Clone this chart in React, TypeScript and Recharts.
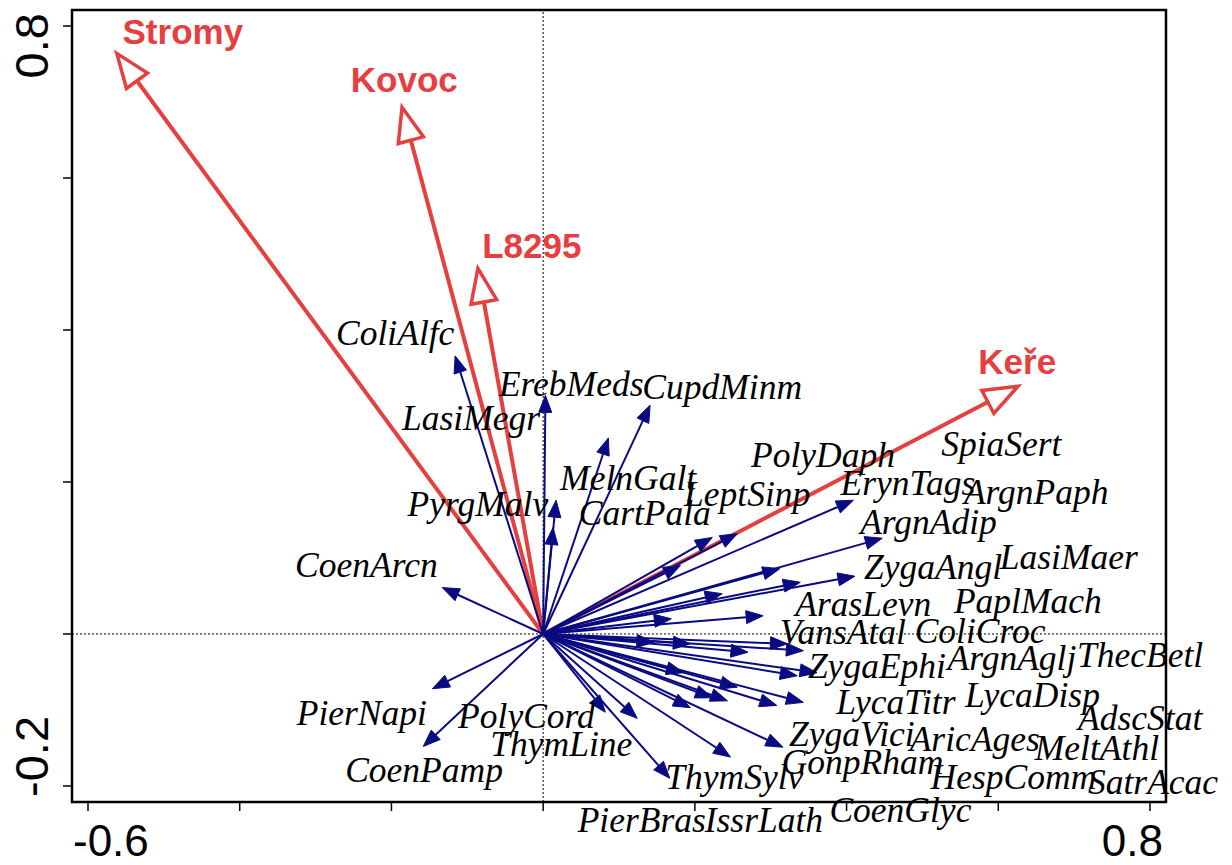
import React from "react";
import { ScatterChart, Scatter, XAxis, YAxis, ReferenceLine, ReferenceArea, ReferenceDot } from "recharts";

// environmental variables (red arrows)
const envNames = ["Stromy", "Kovoc", "L8295", "Keře"];
const envX = [-0.562, -0.186, -0.086, 0.626];
const envY = [0.764, 0.693, 0.481, 0.326];
const envLabelX = [-0.475, -0.183, -0.015, 0.625];
const envLabelY = [0.793, 0.730, 0.511, 0.359];

// species arrow tips
const arrowX = [
  -0.116, 0.003, 0.086, 0.141, 0.017, 0.013, -0.133, -0.146, -0.158, 0.223,
  0.256, 0.181, 0.409, 0.447, 0.312, 0.411, 0.339, 0.236, 0.169, 0.29,
  0.146, 0.194, 0.27, 0.322, 0.343, 0.361, 0.335, 0.185, 0.256, 0.223,
  0.243, 0.194, 0.308, 0.343, 0.082, 0.124, 0.316, 0.247, 0.167,
];
const arrowY = [
  0.366, 0.314, 0.258, 0.301, 0.176, 0.14, 0.061, -0.072, -0.148, 0.127,
  0.132, 0.09, 0.176, 0.126, 0.086, 0.076, 0.068, 0.053, 0.02, 0.024,
  -0.011, -0.013, -0.024, -0.013, -0.022, -0.051, -0.055, -0.051, -0.07, -0.084,
  -0.088, -0.097, -0.094, -0.09, -0.103, -0.111, -0.149, -0.162, -0.19,
];

// species labels
const speciesNames = [
  "ColiAlfc", "LasiMegr", "PyrgMalv", "CoenArcn", "PierNapi", "CoenPamp", "PolyCord", "ThymLine",
  "ErebMeds", "CupdMinm", "MelnGalt", "CartPala", "LeptSinp", "PolyDaph", "ErynTags", "SpiaSert",
  "ArgnPaph", "ArgnAdip", "ZygaAngl", "LasiMaer", "ArasLevn", "PaplMach", "VansAtal", "ColiCroc",
  "ZygaEphi", "ArgnAglj", "ThecBetl", "LycaTitr", "LycaDisp", "AdscStat", "ZygaVici", "AricAges",
  "MeltAthl", "GonpRham", "HespComm", "SatrAcac", "ThymSylv", "PierBras", "IssrLath", "CoenGlyc",
];
const labelX = [
  -0.195, -0.095, -0.086, -0.233, -0.239, -0.157, -0.022, 0.024,
  0.037, 0.236, 0.112, 0.134, 0.269, 0.369, 0.481, 0.604,
  0.65, 0.508, 0.514, 0.693, 0.422, 0.639, 0.395, 0.576,
  0.44, 0.618, 0.787, 0.465, 0.645, 0.787, 0.407, 0.569,
  0.73, 0.421, 0.62, 0.804, 0.252, 0.13, 0.291, 0.471,
];
const labelY = [
  0.395, 0.284, 0.17, 0.09, -0.104, -0.18, -0.109, -0.146,
  0.328, 0.325, 0.205, 0.159, 0.184, 0.235, 0.198, 0.249,
  0.186, 0.147, 0.088, 0.101, 0.039, 0.043, 0.002, 0.003,
  -0.043, -0.032, -0.028, -0.09, -0.081, -0.111, -0.132, -0.139,
  -0.151, -0.169, -0.189, -0.196, -0.189, -0.245, -0.245, -0.232,
];

const xTicks = [-0.6, -0.4, -0.2, 0, 0.2, 0.4, 0.6, 0.8];
const yTicks = [-0.2, 0, 0.2, 0.4, 0.6, 0.8];

const RED = "#e5403f";
const NAVY = "#0a0a82";
const SANS = "'Liberation Sans', Arial, sans-serif";
const SERIF = "'Liberation Serif', 'Times New Roman', serif";

const tips = arrowX.map((x, i) => ({ x, y: arrowY[i] }));

function head(x1: number, y1: number, x2: number, y2: number, len: number, hw: number) {
  const a = Math.atan2(y2 - y1, x2 - x1);
  const c = Math.cos(a);
  const s = Math.sin(a);
  const bx = x2 - len * c;
  const by = y2 - len * s;
  return {
    bx,
    by,
    pts: `${x2},${y2} ${bx - hw * s},${by + hw * c} ${bx + hw * s},${by - hw * c}`,
  };
}

const speciesArrow = (p: any) => {
  const h = head(p.x1, p.y1, p.x2, p.y2, 17, 6.5);
  return (
    <g>
      <line x1={p.x1} y1={p.y1} x2={h.bx} y2={h.by} stroke={NAVY} strokeWidth={2} />
      <polygon points={h.pts} fill={NAVY} stroke={NAVY} strokeWidth={1} />
    </g>
  );
};

const envArrow = (p: any) => {
  const h = head(p.x1, p.y1, p.x2, p.y2, 34, 13);
  return (
    <g>
      <line x1={p.x1} y1={p.y1} x2={h.bx} y2={h.by} stroke={RED} strokeWidth={4} />
      <polygon points={h.pts} fill="#fff" stroke={RED} strokeWidth={3.5} strokeLinejoin="miter" />
    </g>
  );
};

const XTick = (props: any) => {
  const { x, y, payload } = props;
  const v = payload.value;
  if (v !== -0.6 && v !== 0.8) return <g />;
  const isMin = v === -0.6;
  return (
    <text x={x + (isMin ? -15 : 13)} y={y + 43} textAnchor={isMin ? "start" : "end"} fontSize={44} fontFamily={SANS} fill="#000">
      {String(v)}
    </text>
  );
};

const YTick = (props: any) => {
  const { x, y, payload } = props;
  const v = payload.value;
  if (v !== -0.2 && v !== 0.8) return <g />;
  const isMax = v === 0.8;
  const tx = x - 13;
  const ty = y + (isMax ? -13 : 11);
  return (
    <text
      x={tx}
      y={ty}
      transform={`rotate(-90 ${tx} ${ty})`}
      textAnchor={isMax ? "end" : "start"}
      fontSize={47}
      fontFamily={SANS}
      fill="#000"
    >
      {String(v)}
    </text>
  );
};

export default function App() {
  return (
    <div style={{ position: "absolute", left: 0, top: 0, width: 1232, height: 865, background: "#fff" }}>
      <ScatterChart width={1232} height={865} margin={{ top: 10, right: 66, bottom: 0, left: 0 }}>
        <XAxis
          type="number"
          dataKey="x"
          domain={[-0.6211, 0.8211]}
          allowDataOverflow
          ticks={xTicks}
          tick={<XTick />}
          tickSize={9}
          tickLine={{ stroke: "#000", strokeWidth: 1.5 }}
          axisLine={false}
          height={63}
        />
        <YAxis
          type="number"
          dataKey="y"
          domain={[-0.2211, 0.8211]}
          allowDataOverflow
          ticks={yTicks}
          tick={<YTick />}
          tickSize={9}
          tickLine={{ stroke: "#000", strokeWidth: 1.5 }}
          axisLine={false}
          width={72}
        />
        <ReferenceArea
          x1={-0.6211}
          x2={0.8211}
          y1={-0.2211}
          y2={0.8211}
          fill="none"
          fillOpacity={0}
          stroke="#000"
          strokeWidth={2.5}
          ifOverflow="visible"
        />
        <ReferenceLine x={0} stroke="#000" strokeWidth={1} strokeDasharray="2 2" />
        <ReferenceLine y={0} stroke="#000" strokeWidth={1} strokeDasharray="2 2" />
        {envNames.map((n, i) => (
          <ReferenceLine
            key={`env-${n}`}
            segment={[{ x: 0, y: 0 }, { x: envX[i], y: envY[i] }]}
            ifOverflow="visible"
            shape={envArrow}
          />
        ))}
        {tips.map((t, i) => (
          <ReferenceLine
            key={`sp-${i}`}
            segment={[{ x: 0, y: 0 }, { x: t.x, y: t.y }]}
            ifOverflow="visible"
            shape={speciesArrow}
          />
        ))}
        <Scatter data={tips} isAnimationActive={false} shape={() => <g />} />
        {speciesNames.map((n, i) => (
          <ReferenceDot
            key={`lab-${n}`}
            x={labelX[i]}
            y={labelY[i]}
            ifOverflow="visible"
            shape={(p: any) => (
              <text
                x={p.cx}
                y={p.cy}
                dy={11.5}
                textAnchor="middle"
                fontSize={35.5}
                fontStyle="italic"
                fontFamily={SERIF}
                fill="#000"
              >
                {n}
              </text>
            )}
          />
        ))}
        {envNames.map((n, i) => (
          <ReferenceDot
            key={`envlab-${n}`}
            x={envLabelX[i]}
            y={envLabelY[i]}
            ifOverflow="visible"
            shape={(p: any) => (
              <text
                x={p.cx}
                y={p.cy}
                dy={12.5}
                textAnchor="middle"
                fontSize={35}
                fontWeight="bold"
                fontFamily={SANS}
                fill={RED}
              >
                {n}
              </text>
            )}
          />
        ))}
      </ScatterChart>
    </div>
  );
}
